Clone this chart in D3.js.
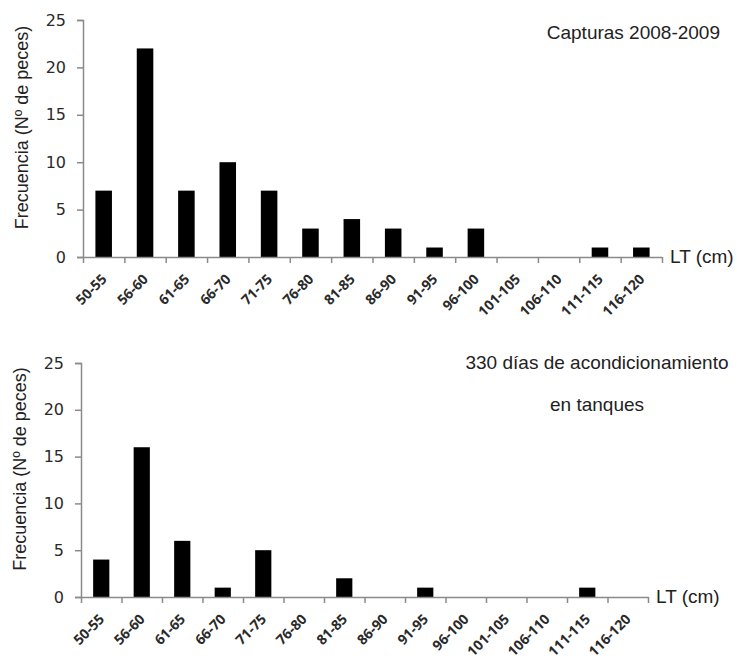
<!DOCTYPE html>
<html>
<head>
<meta charset="utf-8">
<script src="https://cdn.jsdelivr.net/npm/d3@7"></script>
<style>
  body { margin: 0; background: #fff; }
  svg { display: block; }
  .tick text { fill: #2a2a2a; }
</style>
</head>
<body>
<svg width="737" height="662"></svg>
<script>
const svg = d3.select('svg');

// length classes (LT, cm)
const categories = ['50-55', '56-60', '61-65', '66-70', '71-75', '76-80', '81-85',
    '86-90', '91-95', '96-100', '101-105', '106-110', '111-115', '116-120'];

// Capturas 2008-2009
const capturas = [7, 22, 7, 10, 7, 3, 4, 3, 1, 3, 0, 0, 1, 1];

// 330 dias de acondicionamiento en tanques
const tanques = [4, 16, 6, 1, 5, 0, 2, 0, 1, 0, 0, 0, 1, 0];

const yTicks = [0, 5, 10, 15, 20, 25];

const panels = [
    {values: capturas, left: 83, right: 662, bottom: 257, top: 20,
     title: ['Capturas 2008-2009'], titleX: 720, titleY: 39, anchor: 'end'},
    {values: tanques, left: 81, right: 648, bottom: 597, top: 363,
     title: ['330 días de acondicionamiento', 'en tanques'], titleX: 597, titleY: 369, anchor: 'middle'}
];

const drawPanel = function(p) {
    var g = svg.append('g');

    var x = d3.scaleBand()
        .domain(categories)
        .range([p.left, p.right])
        .paddingInner(0.6)
        .paddingOuter(0.3);

    // boundaries between classes, used for the tick marks
    var xEdge = d3.scaleLinear()
        .domain([0, categories.length])
        .range([p.left, p.right]);

    var y = d3.scaleLinear()
        .domain([0, 25])
        .range([p.bottom, p.top]);

    g.selectAll('rect')
        .data(p.values)
        .enter()
        .append('rect')
        .attr('x', (d, i) => x(categories[i]))
        .attr('width', x.bandwidth())
        .attr('y', d => y(d))
        .attr('height', d => y(0) - y(d))
        .attr('fill', '#000');

    // y axis
    var yAxis = g.append('g')
        .attr('transform', `translate(${p.left},0)`)
        .call(d3.axisLeft(y).tickValues(yTicks).tickSize(6).tickPadding(11));
    yAxis.selectAll('text')
        .style('font-family', 'DejaVu Sans')
        .style('font-size', '16px');

    // x axis: tick marks at class edges
    g.append('g')
        .attr('transform', `translate(0,${p.bottom})`)
        .call(d3.axisBottom(xEdge).tickValues(d3.range(categories.length + 1))
            .tickFormat('').tickSize(6).tickSizeOuter(0));

    // x labels
    var xLab = g.append('g')
        .attr('transform', `translate(0,${p.bottom})`)
        .call(d3.axisBottom(x).tickSize(0).tickPadding(0));
    xLab.select('.domain').remove();
    xLab.selectAll('text')
        .attr('text-anchor', 'end')
        .attr('dy', null)
        .attr('transform', 'translate(4,23) rotate(-45)')
        .style('font-family', 'Open Sans')
        .style('font-weight', 'bold')
        .style('font-size', '14px');

    svg.selectAll('.domain, .tick line')
        .attr('stroke', '#8a8a8a')
        .attr('stroke-width', 1.5);

    // y label
    g.append('text')
        .attr('transform', `translate(${p.left - 55},${(p.top + p.bottom) / 2 - 11}) rotate(-90)`)
        .attr('text-anchor', 'middle')
        .style('font-family', 'Liberation Sans')
        .style('font-size', '18px')
        .attr('fill', '#222')
        .text('Frecuencia (Nº de peces)');

    // x label
    g.append('text')
        .attr('x', p.right + 8)
        .attr('y', p.bottom + 6)
        .style('font-family', 'Liberation Sans')
        .style('font-size', '19px')
        .attr('fill', '#222')
        .text('LT (cm)');

    // title
    g.append('text')
        .attr('text-anchor', p.anchor)
        .attr('x', p.titleX)
        .attr('y', p.titleY)
        .style('font-family', 'Liberation Sans')
        .style('font-size', '19px')
        .attr('fill', '#222')
        .selectAll('tspan')
        .data(p.title)
        .enter()
        .append('tspan')
        .attr('x', p.titleX)
        .attr('dy', (d, i) => i === 0 ? 0 : 42)
        .text(d => d);
};

panels.forEach(drawPanel);
</script>
</body>
</html>
